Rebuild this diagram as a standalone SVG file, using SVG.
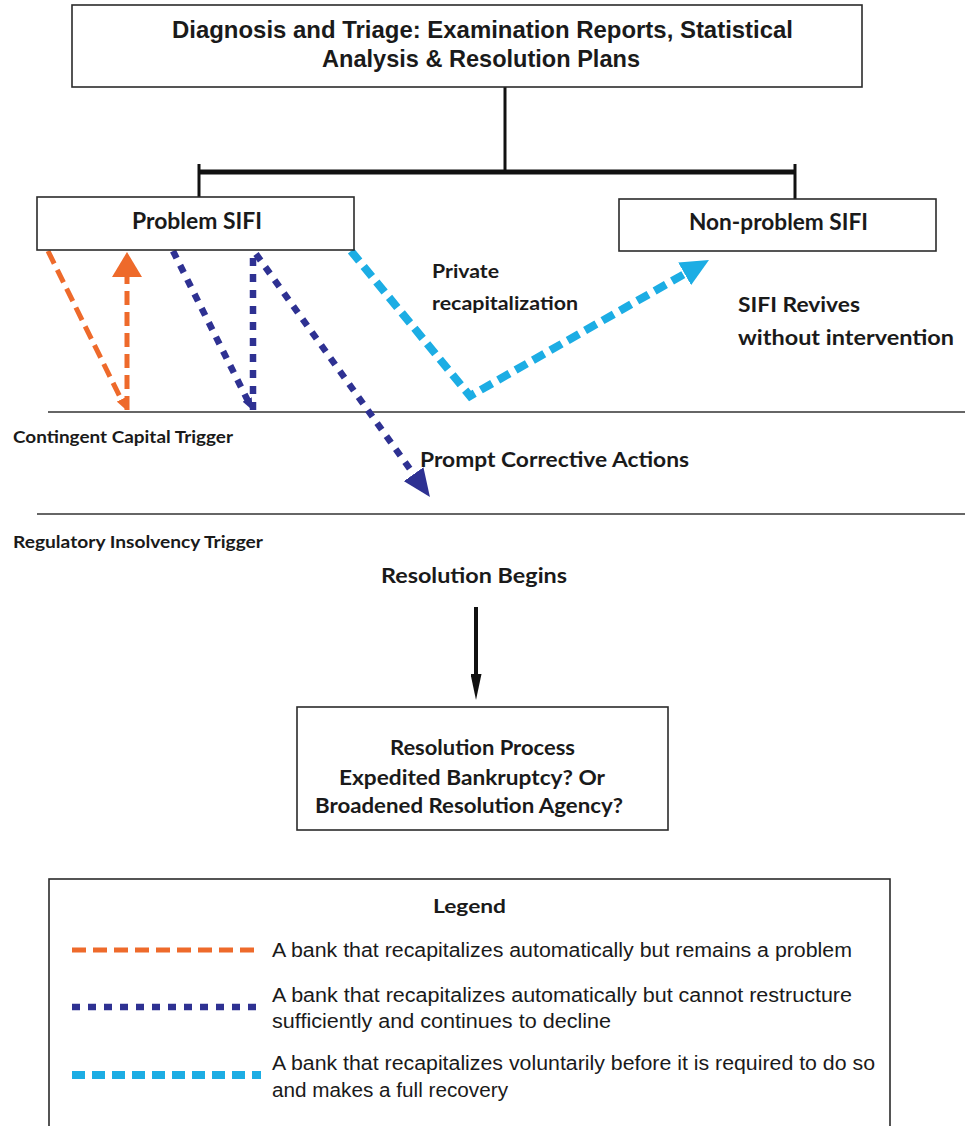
<svg xmlns="http://www.w3.org/2000/svg" width="965" height="1126" viewBox="0 0 965 1126">
<defs>
<style>
.box{fill:#fff;stroke:#2b2b2b;stroke-width:1.6}
.t{font-family:Lato,"Open Sans","Liberation Sans",sans-serif;font-weight:bold;fill:#1a1a1a}
.n{font-family:"Liberation Sans Narrow","Liberation Sans",Arial,sans-serif;font-weight:bold;fill:#1a1a1a}
.lg{font-family:"Liberation Sans Narrow","Liberation Sans",Arial,sans-serif;fill:#1a1a1a}
.trig{stroke:#333;stroke-width:1.6;fill:none}
.blk{stroke:#111;fill:none}
.or{stroke:#EE6A2B;stroke-width:5;stroke-dasharray:14 7;fill:none}
.db{stroke:#2E3192;stroke-width:6.5;stroke-dasharray:8 8;fill:none}
.lb{stroke:#1CADE4;stroke-width:8;stroke-dasharray:13 7;fill:none}
</style>
<marker id="aOr" markerUnits="userSpaceOnUse" markerWidth="25" markerHeight="30" viewBox="0 0 25 30" refX="5" refY="15" orient="auto"><path d="M0,0 L25,15 L0,30 z" fill="#EE6A2B"/></marker>
<marker id="aOrS" markerUnits="userSpaceOnUse" markerWidth="12" markerHeight="10" viewBox="0 0 12 10" refX="4" refY="5" orient="auto"><path d="M0,0 L12,5 L0,10 z" fill="#EE6A2B"/></marker>
<marker id="aDb" markerUnits="userSpaceOnUse" markerWidth="28" markerHeight="24" viewBox="0 0 28 24" refX="8" refY="12" orient="auto"><path d="M0,0 L28,12 L0,24 z" fill="#2E3192"/></marker>
<marker id="aDbS" markerUnits="userSpaceOnUse" markerWidth="12" markerHeight="10" viewBox="0 0 12 10" refX="4" refY="5" orient="auto"><path d="M0,0 L12,5 L0,10 z" fill="#2E3192"/></marker>
<marker id="aLb" markerUnits="userSpaceOnUse" markerWidth="28" markerHeight="26" viewBox="0 0 28 26" refX="8" refY="13" orient="auto"><path d="M0,0 L28,13 L0,26 z" fill="#1CADE4"/></marker>
<marker id="aBk" markerUnits="userSpaceOnUse" markerWidth="26" markerHeight="11" viewBox="0 0 26 11" refX="4" refY="5.5" orient="auto"><path d="M0,0 L26,5.5 L0,11 z" fill="#111"/></marker>
</defs>
<rect width="965" height="1126" fill="#fff"/>

<g id="triggers">
<line class="trig" x1="48" y1="412" x2="965" y2="412"/>
<line class="trig" x1="37" y1="514" x2="965" y2="514"/>
<text class="t" x="13" y="443" font-size="17" textLength="220" lengthAdjust="spacingAndGlyphs">Contingent Capital Trigger</text>
<text class="t" x="13" y="548" font-size="17" textLength="250" lengthAdjust="spacingAndGlyphs">Regulatory Insolvency Trigger</text>
</g>

<g id="connectors">
<line class="blk" stroke-width="3" x1="505" y1="87" x2="505" y2="172"/>
<line class="blk" stroke-width="5" x1="198" y1="172" x2="796" y2="172"/>
<line class="blk" stroke-width="3" x1="199" y1="164" x2="199" y2="197"/>
<line class="blk" stroke-width="3" x1="795" y1="164" x2="795" y2="200"/>
<line class="or" x1="48" y1="251" x2="123" y2="403" marker-end="url(#aOrS)"/>
<line class="or" x1="127" y1="410" x2="127" y2="272" marker-end="url(#aOr)"/>
<line class="db" x1="173" y1="251" x2="249" y2="403" marker-end="url(#aDbS)"/>
<line class="db" x1="253" y1="410" x2="253" y2="252"/>
<line class="db" x1="256" y1="254" x2="418.3" y2="480.7" marker-end="url(#aDb)"/>
<polyline class="lb" points="351,251 470,396 691.6,269.9" marker-end="url(#aLb)"/>
<line class="blk" stroke-width="4" x1="476" y1="607" x2="476" y2="678" marker-end="url(#aBk)"/>
</g>

<g id="diagnosis">
<rect class="box" x="72" y="5" width="790" height="82"/>
<text class="n" x="482.5" y="38" font-size="24" text-anchor="middle" textLength="621" lengthAdjust="spacingAndGlyphs">Diagnosis and Triage:  Examination Reports, Statistical</text>
<text class="n" x="481" y="67" font-size="24" text-anchor="middle" textLength="318" lengthAdjust="spacingAndGlyphs">Analysis &amp; Resolution Plans</text>
</g>

<g id="problem">
<rect class="box" x="37" y="197" width="317" height="53"/>
<text class="t" x="132" y="229" font-size="22" textLength="130" lengthAdjust="spacingAndGlyphs">Problem SIFI</text>
</g>

<g id="nonproblem">
<rect class="box" x="619" y="199" width="317" height="52"/>
<text class="t" x="689" y="230" font-size="22" textLength="179" lengthAdjust="spacingAndGlyphs">Non-problem SIFI</text>
</g>

<g id="labels">
<text class="t" x="432" y="278" font-size="18" textLength="67" lengthAdjust="spacingAndGlyphs">Private</text>
<text class="t" x="432" y="310" font-size="18" textLength="146" lengthAdjust="spacingAndGlyphs">recapitalization</text>
<text class="t" x="738" y="312" font-size="21" textLength="122" lengthAdjust="spacingAndGlyphs">SIFI Revives</text>
<text class="t" x="738" y="345" font-size="21" textLength="216" lengthAdjust="spacingAndGlyphs">without intervention</text>
<text class="t" x="420" y="467" font-size="21" textLength="269" lengthAdjust="spacingAndGlyphs">Prompt Corrective Actions</text>
<text class="t" x="381" y="583" font-size="21" textLength="186" lengthAdjust="spacingAndGlyphs">Resolution Begins</text>
</g>

<g id="resolution">
<rect class="box" x="297" y="707" width="371" height="123"/>
<text class="t" x="390" y="755" font-size="21" textLength="185" lengthAdjust="spacingAndGlyphs">Resolution Process</text>
<text class="t" x="339" y="785" font-size="21" textLength="266" lengthAdjust="spacingAndGlyphs">Expedited Bankruptcy? Or</text>
<text class="t" x="315" y="813" font-size="21" textLength="308" lengthAdjust="spacingAndGlyphs">Broadened Resolution Agency?</text>
</g>

<g id="legend">
<rect class="box" x="49" y="879" width="841" height="260"/>
<text class="t" x="433" y="913" font-size="19" textLength="73" lengthAdjust="spacingAndGlyphs">Legend</text>
<line class="or" x1="72" y1="950" x2="261" y2="950"/>
<line class="db" x1="72" y1="1007" x2="261" y2="1007" stroke-width="7"/>
<line class="lb" x1="72" y1="1075" x2="261" y2="1075" stroke-width="7"/>
<text class="lg" x="272" y="957" font-size="20" textLength="580" lengthAdjust="spacingAndGlyphs">A bank that recapitalizes automatically but remains a problem</text>
<text class="lg" x="272" y="1002" font-size="20" textLength="580" lengthAdjust="spacingAndGlyphs">A bank that recapitalizes automatically but cannot restructure</text>
<text class="lg" x="272" y="1028" font-size="20" textLength="339" lengthAdjust="spacingAndGlyphs">sufficiently and continues to decline</text>
<text class="lg" x="272" y="1070" font-size="20" textLength="603" lengthAdjust="spacingAndGlyphs">A bank that recapitalizes voluntarily before it is required to do so</text>
<text class="lg" x="272" y="1097" font-size="20" textLength="236" lengthAdjust="spacingAndGlyphs">and makes a full recovery</text>
</g>
</svg>
